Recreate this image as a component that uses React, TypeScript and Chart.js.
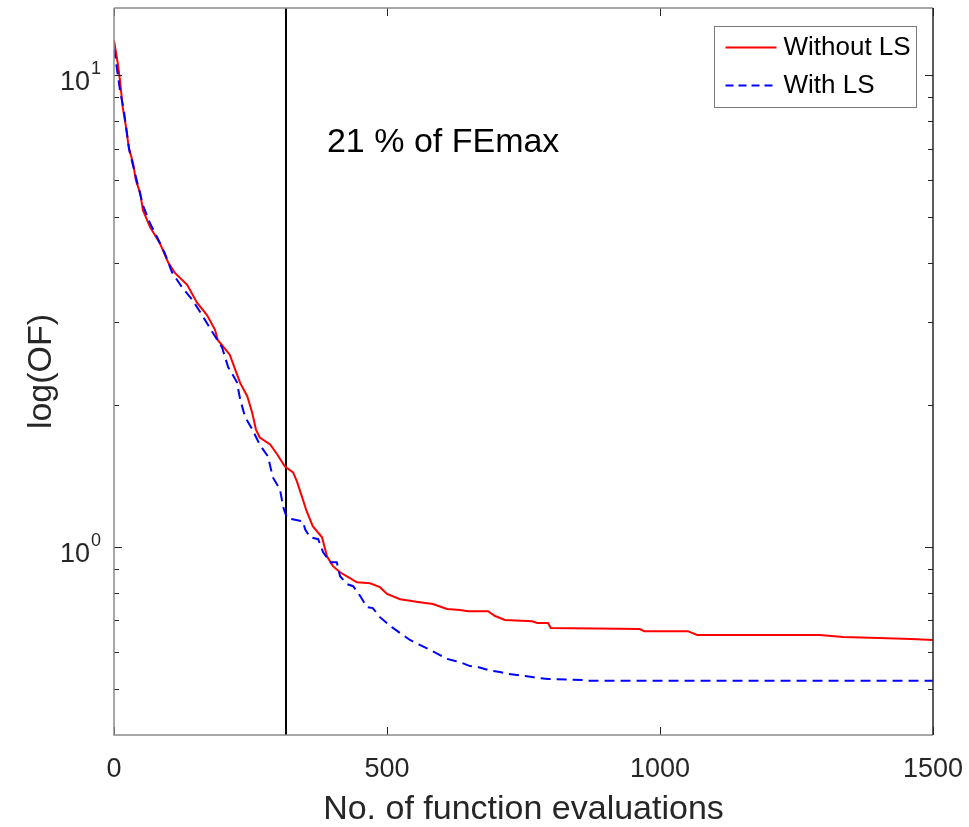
import React, { useEffect, useRef } from "react";
import { Chart, registerables } from "chart.js";

Chart.register(...registerables);

const FONT = "'Liberation Sans', Arial, Helvetica, sans-serif";

// axis ranges and ticks
const xMin = 0;
const xMax = 1500;
const yMin = 0.4;
const yMax = 13.9;
const xTicks = [0, 500, 1000, 1500];
const yMajorTicks = [1, 10];
const yMajorExponents = ["0", "1"];
const yMinorTicks = [0.4, 0.5, 0.6, 0.7, 0.8, 0.9, 2, 3, 4, 5, 6, 7, 8, 9];

// series: Without LS
const withoutLsX = [0, 7, 11, 16, 22, 27, 35, 40, 48, 53, 66, 84, 99, 112, 134, 152, 170, 185, 190, 212, 222, 231, 244, 253, 260, 267, 286, 299, 313, 328, 335, 344, 353, 364, 381, 390, 401, 414, 429, 445, 469, 487, 500, 524, 560, 584, 610, 634, 648, 685, 698, 716, 766, 775, 795, 800, 963, 971, 1051, 1068, 1293, 1335, 1401, 1460, 1500];
const withoutLsY = [11.86, 10.6, 9.76, 8.56, 7.77, 7.04, 6.52, 6.0, 5.63, 5.18, 4.77, 4.41, 4.02, 3.81, 3.6, 3.3, 3.11, 2.89, 2.75, 2.56, 2.38, 2.23, 2.09, 1.93, 1.776, 1.709, 1.651, 1.573, 1.483, 1.441, 1.379, 1.282, 1.191, 1.108, 1.05, 0.957, 0.912, 0.885, 0.864, 0.843, 0.839, 0.823, 0.796, 0.776, 0.765, 0.758, 0.74, 0.736, 0.732, 0.732, 0.715, 0.701, 0.697, 0.691, 0.691, 0.674, 0.671, 0.664, 0.664, 0.652, 0.652, 0.645, 0.642, 0.639, 0.636];

// series: With LS
const withLsX = [0, 4, 11, 18, 28, 37, 44, 53, 66, 79, 93, 106, 125, 143, 161, 180, 198, 209, 225, 231, 240, 253, 267, 282, 291, 304, 310, 317, 346, 350, 359, 374, 383, 396, 408, 414, 427, 438, 451, 463, 474, 487, 509, 524, 542, 560, 579, 597, 610, 625, 637, 652, 665, 679, 692, 707, 720, 738, 749, 766, 777, 795, 859, 866, 1500];
const withLsY = [11.4, 10.6, 9.29, 8.43, 6.94, 6.3, 5.85, 5.31, 4.86, 4.54, 4.2, 3.83, 3.55, 3.35, 3.11, 2.86, 2.65, 2.41, 2.24, 2.06, 1.89, 1.78, 1.65, 1.557, 1.406, 1.326, 1.215, 1.152, 1.135, 1.092, 1.05, 1.04, 0.976, 0.93, 0.93, 0.868, 0.835, 0.827, 0.788, 0.747, 0.743, 0.711, 0.677, 0.658, 0.636, 0.621, 0.606, 0.591, 0.58, 0.574, 0.569, 0.56, 0.558, 0.552, 0.547, 0.544, 0.539, 0.536, 0.534, 0.531, 0.528, 0.526, 0.523, 0.521, 0.521];

// marker line at 21 % of FEmax and its annotation
const feMarkX = 315;
const annotationText = "21 % of FEmax";
const annotationX = 390;
const annotationY = 7.2;

const seriesNames = ["Without LS", "With LS"];
const seriesColors = ["#ff0000", "#0000ff"];
const seriesDashes: number[][] = [[], [10, 6]];

const toPoints = (xs: number[], ys: number[]) => xs.map((x, i) => ({ x, y: ys[i] }));

const decorPlugin = {
  id: "decor",
  afterDatasetsDraw(chart: any) {
    const { ctx, chartArea: a, scales } = chart;
    const x = scales.x;
    const y = scales.y;
    ctx.save();

    // tick marks (inward)
    ctx.strokeStyle = "#262626";
    ctx.lineWidth = 1;
    ctx.beginPath();
    for (const v of xTicks) {
      const px = Math.round(x.getPixelForValue(v)) + 0.5;
      ctx.moveTo(px, a.bottom);
      ctx.lineTo(px, a.bottom - 8);
      ctx.moveTo(px, a.top);
      ctx.lineTo(px, a.top + 8);
    }
    const yTick = (v: number, len: number) => {
      const py = Math.round(y.getPixelForValue(v)) + 0.5;
      if (py < a.top + 2 || py > a.bottom - 2) return;
      ctx.moveTo(a.left, py);
      ctx.lineTo(a.left + len, py);
      ctx.moveTo(a.right, py);
      ctx.lineTo(a.right - len, py);
    };
    yMajorTicks.forEach((v) => yTick(v, 8));
    yMinorTicks.forEach((v) => yTick(v, 5));
    ctx.stroke();

    // axes box
    ctx.lineWidth = 1.5;
    ctx.strokeStyle = "#8a8a8a";
    ctx.beginPath();
    ctx.moveTo(a.left, a.top);
    ctx.lineTo(a.left, a.bottom);
    ctx.lineTo(a.right, a.bottom);
    ctx.moveTo(a.left, a.top);
    ctx.lineTo(a.right, a.top);
    ctx.stroke();
    ctx.strokeStyle = "#262626";
    ctx.beginPath();
    ctx.moveTo(a.right, a.top);
    ctx.lineTo(a.right, a.bottom);
    ctx.stroke();

    // y tick labels 10^n
    ctx.fillStyle = "#262626";
    ctx.textBaseline = "alphabetic";
    yMajorTicks.forEach((v, i) => {
      const py = y.getPixelForValue(v);
      ctx.font = `27px ${FONT}`;
      ctx.textAlign = "right";
      ctx.fillText("10", a.left - 24, py + 15);
      ctx.font = `18px ${FONT}`;
      ctx.textAlign = "left";
      ctx.fillText(yMajorExponents[i], a.left - 23, py - 1);
    });

    // annotation
    ctx.fillStyle = "#000000";
    ctx.font = `34px ${FONT}`;
    ctx.textAlign = "left";
    ctx.textBaseline = "middle";
    ctx.fillText(annotationText, x.getPixelForValue(annotationX), y.getPixelForValue(annotationY));

    // legend
    const bw = 202;
    const bh = 81;
    const bx = Math.round(a.right - 219) + 0.5;
    const by = Math.round(a.top + 18) + 0.5;
    ctx.fillStyle = "#ffffff";
    ctx.fillRect(bx, by, bw, bh);
    ctx.strokeStyle = "#7a7a7a";
    ctx.lineWidth = 1;
    ctx.strokeRect(bx, by, bw, bh);
    seriesNames.forEach((name, i) => {
      const ry = by + 21 + i * 38;
      ctx.strokeStyle = seriesColors[i];
      ctx.lineWidth = 2;
      ctx.setLineDash(seriesDashes[i].length ? [8, 5] : []);
      ctx.beginPath();
      ctx.moveTo(bx + 11, ry);
      ctx.lineTo(bx + 62, ry);
      ctx.stroke();
      ctx.setLineDash([]);
      ctx.fillStyle = "#000000";
      ctx.font = `26px ${FONT}`;
      ctx.textAlign = "left";
      ctx.textBaseline = "middle";
      ctx.fillText(name, bx + 69, ry);
    });

    ctx.restore();
  },
};

export default function App() {
  const canvasRef = useRef<HTMLCanvasElement | null>(null);

  useEffect(() => {
    if (!canvasRef.current) return;
    const chart = new Chart(canvasRef.current, {
      type: "line",
      data: {
        datasets: [
          {
            label: seriesNames[1],
            data: toPoints(withLsX, withLsY),
            borderColor: seriesColors[1],
            borderWidth: 2,
            borderDash: seriesDashes[1],
            pointRadius: 0,
            tension: 0,
            fill: false,
          },
          {
            label: seriesNames[0],
            data: toPoints(withoutLsX, withoutLsY),
            borderColor: seriesColors[0],
            borderWidth: 2,
            pointRadius: 0,
            tension: 0,
            fill: false,
          },
          {
            label: "21% FEmax",
            data: [
              { x: feMarkX, y: yMin },
              { x: feMarkX, y: yMax },
            ],
            borderColor: "#000000",
            borderWidth: 2,
            pointRadius: 0,
            fill: false,
          },
        ],
      },
      options: {
        animation: false,
        responsive: true,
        maintainAspectRatio: false,
        layout: { padding: { left: 0, right: 36, top: 8, bottom: 0 } },
        plugins: {
          legend: { display: false },
          tooltip: { enabled: false },
        },
        scales: {
          x: {
            type: "linear",
            min: xMin,
            max: xMax,
            grid: { display: false, drawTicks: false },
            border: { display: false },
            afterBuildTicks: (s: any) => {
              s.ticks = xTicks.map((v) => ({ value: v }));
            },
            ticks: {
              autoSkip: false,
              maxRotation: 0,
              padding: 18,
              color: "#262626",
              font: { family: FONT, size: 27 },
              callback: (v: any) => String(v),
            },
            title: {
              display: true,
              text: "No. of function evaluations",
              color: "#262626",
              font: { family: FONT, size: 34, lineHeight: 1.05 },
              padding: { top: 0, bottom: 0 },
            },
            afterFit: (s: any) => {
              s.height = 92;
              s.paddingLeft = 0;
              s.paddingRight = 0;
            },
          },
          y: {
            type: "logarithmic",
            min: yMin,
            max: yMax,
            grid: { display: false, drawTicks: false },
            border: { display: false },
            ticks: { display: false },
            title: {
              display: true,
              text: "log(OF)",
              color: "#262626",
              font: { family: FONT, size: 34, lineHeight: 1.2 },
              padding: { top: 21, bottom: 0 },
            },
            afterFit: (s: any) => {
              s.width = 114;
              s.paddingTop = 0;
              s.paddingBottom = 0;
            },
          },
        },
      },
      plugins: [decorPlugin],
    });
    return () => chart.destroy();
  }, []);

  return (
    <div style={{ position: "fixed", left: 0, top: 0, width: 969, height: 827, background: "#ffffff" }}>
      <canvas ref={canvasRef} />
    </div>
  );
}
